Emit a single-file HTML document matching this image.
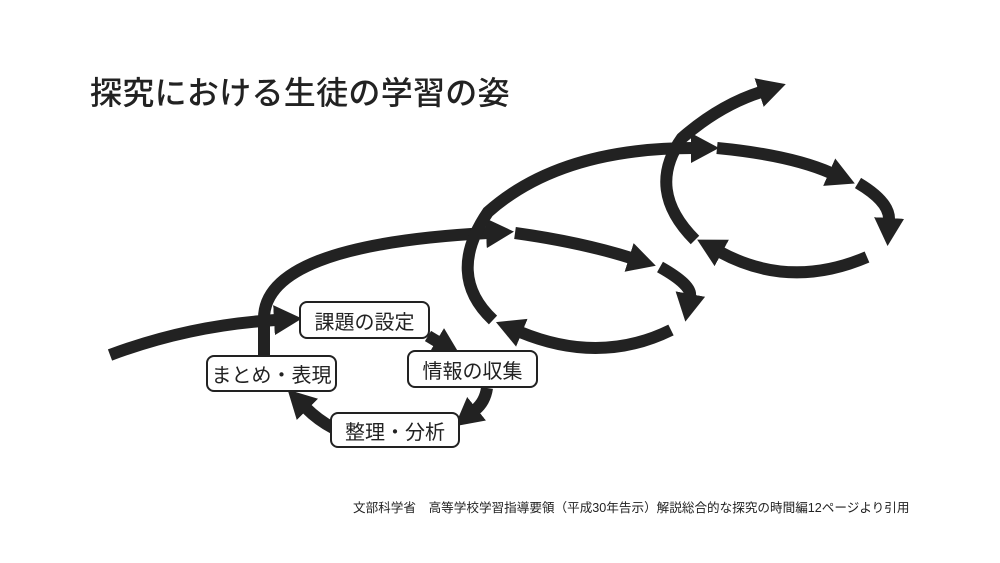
<!DOCTYPE html>
<html><head><meta charset="utf-8"><style>
html,body{margin:0;padding:0;background:#fff;}
body{width:1000px;height:563px;position:relative;overflow:hidden;font-family:"Liberation Sans","Noto Sans CJK JP",sans-serif;color:#222;}
.t{position:absolute;left:90px;top:68px;font-size:32px;letter-spacing:0.3px;white-space:nowrap;font-weight:500;}
.f{position:absolute;left:353px;top:497px;font-size:12.6px;white-space:nowrap;}
.b{position:absolute;box-sizing:border-box;border:2px solid #222;border-radius:8px;background:#fff;font-size:20px;display:flex;align-items:center;justify-content:center;white-space:nowrap;}
svg{position:absolute;left:0;top:0;}
</style></head><body>
<svg width="1000" height="563" viewBox="0 0 1000 563">
<defs>
<marker id="a" markerUnits="userSpaceOnUse" markerWidth="34" markerHeight="34" refX="2" refY="15" orient="auto">
<path d="M0,0 L28,15 L0,30 Z" fill="#222"/>
</marker>
</defs>
<g fill="none" stroke="#222" stroke-width="12">
<path d="M110,355 Q190,325 276,320" marker-end="url(#a)"/>
<path d="M264,358 L264,320 Q262,245 488,233" marker-end="url(#a)"/>
<path d="M428,336 L438,342" marker-end="url(#a)"/>
<path d="M487,388 Q485,402 475,410" marker-end="url(#a)"/>
<path d="M333,428 Q318,420 306,408" marker-end="url(#a)"/>
<path d="M515,233 Q580,242 631,258" marker-end="url(#a)"/>
<path d="M660,267 Q692,285 690,296" marker-end="url(#a)"/>
<path d="M671,330 Q600,365 520,332" marker-end="url(#a)"/>
<path d="M493,320 Q445,275 488,212 Q560,148 693,148" marker-end="url(#a)"/>
<path d="M717,148 Q790,155 831,173" marker-end="url(#a)"/>
<path d="M858,183 Q890,202 889,220" marker-end="url(#a)"/>
<path d="M867,257 Q790,290 720,252" marker-end="url(#a)"/>
<path d="M695,240 Q645,190 682,138 Q720,105 761,92" marker-end="url(#a)"/>
</g>
</svg>
<div class="t">探究における生徒の学習の姿</div>
<div class="b" style="left:299px;top:301px;width:131px;height:38px;">課題の設定</div>
<div class="b" style="left:206px;top:355px;width:131px;height:37px;">まとめ・表現</div>
<div class="b" style="left:407px;top:350px;width:131px;height:38px;">情報の収集</div>
<div class="b" style="left:330px;top:412px;width:130px;height:36px;">整理・分析</div>
<div class="f">文部科学省　高等学校学習指導要領（平成30年告示）解説総合的な探究の時間編12ページより引用</div>
</body></html>
